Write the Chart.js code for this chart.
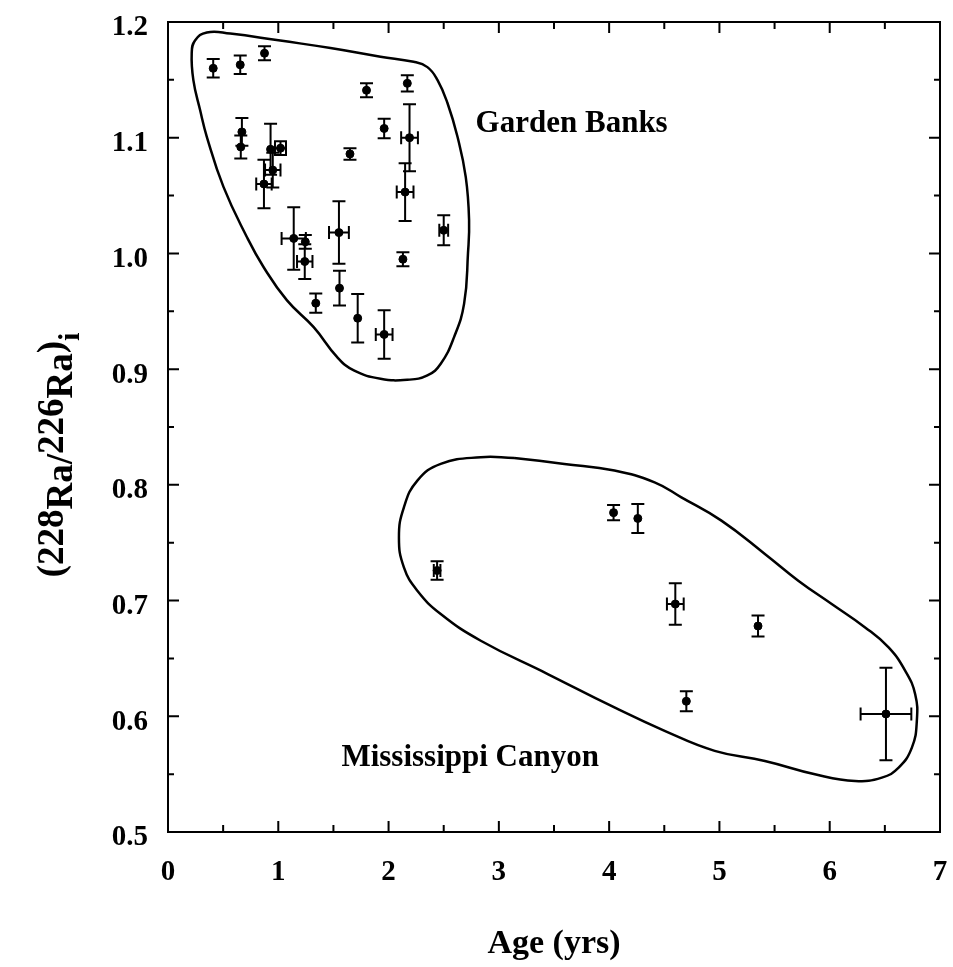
<!DOCTYPE html>
<html lang="en">
<head>
<meta charset="utf-8">
<title>228Ra/226Ra versus age</title>
<style>
body { margin: 0; background: #fff; }
</style>
</head>
<body>
<canvas id="canvas" width="953" height="967"></canvas>
<script src="https://cdn.jsdelivr.net/npm/chart.js"></script>
<script>

const SERIF = '"Liberation Serif", "Times New Roman", serif'

// Garden Banks samples: age (yrs), initial activity ratio, and their errors
let gbAge      = [0.41, 0.655, 0.875, 1.80, 2.17, 1.96, 2.19, 1.65, 0.67, 0.66, 0.93, 1.02, 0.95, 0.87, 2.15, 1.14, 1.245, 1.24, 1.55, 2.50, 2.13, 1.555, 1.34, 1.72, 1.96]
let gbRatio    = [1.160, 1.163, 1.173, 1.141, 1.147, 1.108, 1.100, 1.086, 1.105, 1.092, 1.090, 1.091, 1.072, 1.060, 1.053, 1.013, 1.010, 0.993, 1.018, 1.020, 0.995, 0.970, 0.957, 0.944, 0.930]
let gbAgeErr   = [0, 0, 0, 0, 0, 0, 0.076, 0, 0, 0, 0, 0.05, 0.07, 0.07, 0.076, 0.11, 0, 0.07, 0.09, 0.04, 0, 0, 0, 0, 0.076]
let gbRatioErr = [0.008, 0.008, 0.006, 0.006, 0.007, 0.0084, 0.029, 0.005, 0.012, 0.010, 0.022, 0.006, 0.015, 0.021, 0.025, 0.027, 0.006, 0.015, 0.027, 0.013, 0.006, 0.015, 0.0083, 0.021, 0.021]

// Mississippi Canyon samples
let mcAge      = [2.44, 4.04, 4.26, 4.60, 5.35, 4.70, 6.51]
let mcRatio    = [0.726, 0.776, 0.771, 0.697, 0.678, 0.613, 0.602]
let mcAgeErr   = [0.03, 0, 0, 0.076, 0, 0, 0.23]
let mcRatioErr = [0.008, 0.0065, 0.0125, 0.018, 0.009, 0.0087, 0.04]

// hand drawn envelopes round each group (closed: last point repeats the first)
let gbOutlineAge   = [1.018, 1.473, 1.927, 2.227, 2.352, 2.443, 2.534, 2.625, 2.70, 2.73, 2.72, 2.685, 2.594, 2.473, 2.352, 2.17, 1.927, 1.685, 1.534, 1.321, 1.079, 0.866, 0.715, 0.503, 0.352, 0.291, 0.23, 0.215, 0.245, 0.352, 0.564, 1.018]
let gbOutlineRatio = [1.184, 1.1775, 1.170, 1.1656, 1.161, 1.150, 1.130, 1.1008, 1.066, 1.0287, 1.000, 0.9566, 0.9277, 0.9047, 0.8946, 0.8908, 0.8917, 0.8989, 0.9104, 0.9363, 0.9594, 0.9883, 1.0142, 1.0575, 1.1008, 1.1239, 1.1498, 1.173, 1.184, 1.191, 1.190, 1.184]
let mcOutlineAge   = [3.139, 3.594, 4.048, 4.412, 4.655, 5.018, 5.412, 5.715, 6.018, 6.321, 6.534, 6.685, 6.775, 6.79, 6.745, 6.625, 6.473, 6.23, 5.866, 5.412, 4.957, 4.503, 4.048, 3.443, 2.836, 2.473, 2.261, 2.139, 2.094, 2.139, 2.261, 2.473, 2.836, 3.139]
let mcOutlineRatio = [0.8233, 0.8181, 0.8124, 0.8022, 0.7892, 0.7691, 0.7403, 0.7172, 0.6970, 0.6768, 0.6595, 0.6393, 0.6191, 0.5961, 0.5729, 0.5556, 0.5470, 0.5441, 0.5499, 0.5614, 0.5701, 0.5874, 0.6076, 0.6365, 0.6653, 0.6884, 0.7085, 0.7287, 0.7546, 0.7806, 0.8037, 0.8181, 0.8239, 0.8233]

// group names and where they sit (data units)
let groupLabels = [
    { text: "Garden Banks", age: 3.66, ratio: 1.112 },
    { text: "Mississippi Canyon", age: 2.74, ratio: 0.564 },
]

let xTitle = "Age (yrs)"

let zip = (xs, ys) => xs.map((x, i) => ({ x: x, y: ys[i] }))

// draws x/y error bars with caps under the points
let errorBars = {
    id: "errorBars",
    beforeDatasetsDraw(chart) {
        let ctx = chart.ctx
        let xs = chart.scales.x, ys = chart.scales.y
        let cap = 6.5
        ctx.save()
        ctx.strokeStyle = "#000"
        ctx.lineWidth = 2
        chart.data.datasets.forEach(ds => {
            if (!ds.ageErr) return
            ds.data.forEach((p, i) => {
                let px = xs.getPixelForValue(p.x)
                let py = ys.getPixelForValue(p.y)
                ctx.beginPath()
                if (ds.ratioErr[i] > 0) {
                    let t = ys.getPixelForValue(p.y + ds.ratioErr[i])
                    let b = ys.getPixelForValue(p.y - ds.ratioErr[i])
                    ctx.moveTo(px, t); ctx.lineTo(px, b)
                    ctx.moveTo(px - cap, t); ctx.lineTo(px + cap, t)
                    ctx.moveTo(px - cap, b); ctx.lineTo(px + cap, b)
                }
                if (ds.ageErr[i] > 0) {
                    let l = xs.getPixelForValue(p.x - ds.ageErr[i])
                    let r = xs.getPixelForValue(p.x + ds.ageErr[i])
                    ctx.moveTo(l, py); ctx.lineTo(r, py)
                    ctx.moveTo(l, py - cap); ctx.lineTo(l, py + cap)
                    ctx.moveTo(r, py - cap); ctx.lineTo(r, py + cap)
                }
                ctx.stroke()
            })
        })
        ctx.restore()
    }
}

// box round the plot, inward ticks on all four sides, titles and group names
let frame = {
    id: "frame",
    afterDraw(chart) {
        let ctx = chart.ctx
        let a = chart.chartArea
        let xs = chart.scales.x, ys = chart.scales.y
        ctx.save()
        ctx.strokeStyle = "#000"
        ctx.lineWidth = 2
        ctx.strokeRect(a.left, a.top, a.right - a.left, a.bottom - a.top)

        ctx.beginPath()
        for (let v = 0; v <= 7.001; v += 0.5) {
            let len = Math.abs(v - Math.round(v)) < 0.01 ? 11 : 7
            let px = xs.getPixelForValue(v)
            ctx.moveTo(px, a.bottom); ctx.lineTo(px, a.bottom - len)
            ctx.moveTo(px, a.top); ctx.lineTo(px, a.top + len)
        }
        for (let k = 10; k <= 24; k++) {
            let v = k * 0.05
            let len = k % 2 == 0 ? 11 : 6
            let py = ys.getPixelForValue(v)
            ctx.moveTo(a.left, py); ctx.lineTo(a.left + len, py)
            ctx.moveTo(a.right, py); ctx.lineTo(a.right - len, py)
        }
        ctx.stroke()

        ctx.fillStyle = "#000"
        ctx.textAlign = "center"
        ctx.textBaseline = "middle"
        ctx.font = "bold 31px " + SERIF
        groupLabels.forEach(g => {
            ctx.fillText(g.text, xs.getPixelForValue(g.age), ys.getPixelForValue(g.ratio))
        })

        ctx.font = "bold 34px " + SERIF
        ctx.fillText(xTitle, (a.left + a.right) / 2, 944)

        // (228Ra/226Ra)i  with the Ra parts dropped and i as subscript
        let parts = [
            ["(", 0, 37], ["228", 0, 37], ["Ra/", 9, 37], ["226", 0, 37],
            ["Ra", 9, 37], [")", 0, 37], ["i", 16, 30],
        ]
        ctx.textAlign = "left"
        ctx.textBaseline = "alphabetic"
        let total = 0
        parts.forEach(p => {
            ctx.font = "bold " + p[2] + "px " + SERIF
            total += ctx.measureText(p[0]).width
        })
        ctx.translate(63, 455 + total / 2)
        ctx.rotate(-Math.PI / 2)
        let x = 0
        parts.forEach(p => {
            ctx.font = "bold " + p[2] + "px " + SERIF
            ctx.fillText(p[0], x, p[1])
            x += ctx.measureText(p[0]).width
        })
        ctx.restore()
    }
}

// pin the plot box: no extra room for the end tick labels
let noEdgePadding = s => {
    s.paddingTop = 0
    s.paddingBottom = 0
    s.paddingLeft = 0
    s.paddingRight = 0
}

let tickFont = { family: SERIF, size: 29, weight: "bold" }

let chart = new Chart(document.getElementById("canvas"), {
    type: "scatter",
    data: {
        datasets: [
            {
                label: "Garden Banks",
                data: zip(gbAge, gbRatio),
                ageErr: gbAgeErr,
                ratioErr: gbRatioErr,
                backgroundColor: "#000",
                borderColor: "#000",
                pointRadius: 4,
            },
            {
                label: "Mississippi Canyon",
                data: zip(mcAge, mcRatio),
                ageErr: mcAgeErr,
                ratioErr: mcRatioErr,
                backgroundColor: "#000",
                borderColor: "#000",
                pointRadius: 4,
            },
            {
                label: "Garden Banks envelope",
                data: zip(gbOutlineAge, gbOutlineRatio),
                showLine: true,
                tension: 0.45,
                borderColor: "#000",
                borderWidth: 2.5,
                pointRadius: 0,
            },
            {
                label: "Mississippi Canyon envelope",
                data: zip(mcOutlineAge, mcOutlineRatio),
                showLine: true,
                tension: 0.45,
                borderColor: "#000",
                borderWidth: 2.5,
                pointRadius: 0,
            },
        ]
    },
    options: {
        responsive: false,
        animation: false,
        layout: { padding: { top: 22, right: 13, left: 0, bottom: 0 } },
        plugins: {
            legend: { display: false },
            tooltip: { enabled: false },
        },
        scales: {
            x: {
                type: "linear",
                min: 0,
                max: 7,
                afterFit: s => { s.height = 135; noEdgePadding(s) },
                grid: { display: false, drawTicks: false },
                border: { display: false },
                ticks: { stepSize: 1, padding: 23, color: "#000", font: tickFont, maxRotation: 0 },
            },
            y: {
                min: 0.5,
                max: 1.2,
                afterFit: s => { s.width = 168; noEdgePadding(s) },
                grid: { display: false, drawTicks: false },
                border: { display: false },
                ticks: {
                    stepSize: 0.1,
                    padding: 20,
                    labelOffset: 6,
                    color: "#000",
                    font: tickFont,
                    callback: v => v.toFixed(1),
                },
            },
        },
    },
    plugins: [errorBars, frame],
})

</script>
</body>
</html>
